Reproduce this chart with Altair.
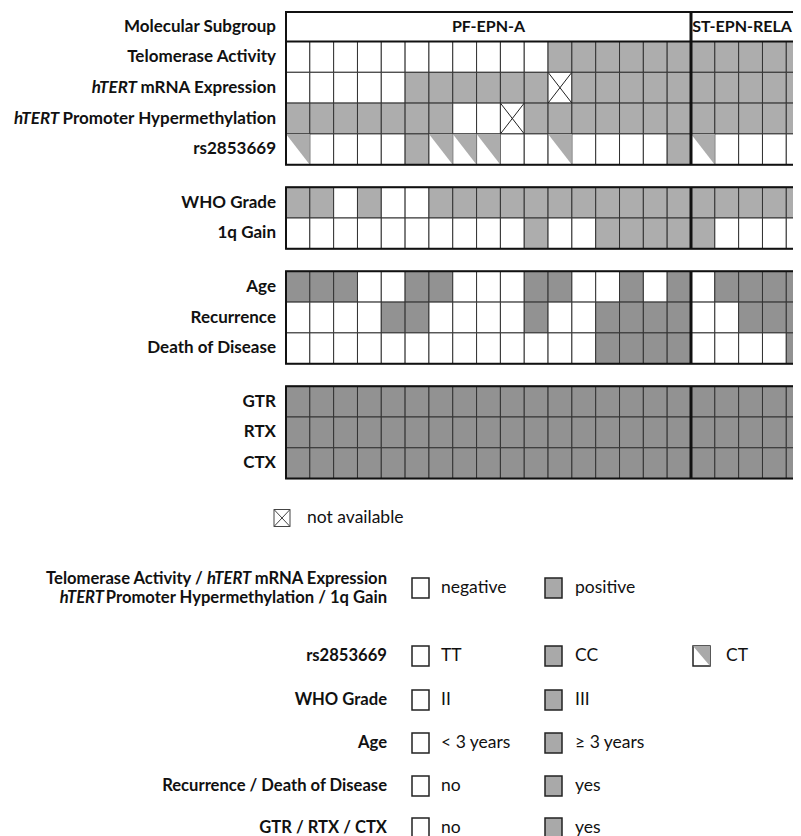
import altair as alt
import pandas as pd

# ------------------------------------------------------------------ data
subgroup_names = ["PF-EPN-A", "ST-EPN-RELA"]
subgroup_counts = [17, 5]

telomerase_activity = [0, 0, 0, 0, 0, 0, 0, 0, 0, 0, 0, 1, 1, 1, 1, 1, 1, 1, 1, 1, 1, 1]
htert_mrna_expression = [0, 0, 0, 0, 0, 1, 1, 1, 1, 1, 1, None, 1, 1, 1, 1, 1, 1, 1, 1, 1, 1]
htert_promoter_hypermethylation = [1, 1, 1, 1, 1, 1, 1, 0, 0, None, 1, 1, 1, 1, 1, 1, 1, 1, 1, 1, 1, 1]
rs2853669 = ["CT", "TT", "TT", "TT", "TT", "CC", "CT", "CT", "CT", "TT", "TT", "CT", "TT", "TT", "TT", "TT", "CC",
             "CT", "TT", "TT", "TT", "TT"]
who_grade = ["III", "III", "II", "III", "II", "II", "III", "III", "III", "III", "III", "III", "III", "III", "III",
             "III", "III", "III", "III", "III", "III", "III"]
gain_1q = [0, 0, 0, 0, 0, 0, 0, 0, 0, 0, 1, 0, 0, 1, 1, 1, 1, 1, 0, 0, 0, 0]
age = [">=3", ">=3", ">=3", "<3", "<3", ">=3", ">=3", "<3", "<3", "<3", ">=3", ">=3", "<3", "<3", ">=3", "<3", ">=3",
       "<3", ">=3", ">=3", ">=3", ">=3"]
recurrence = [0, 0, 0, 0, 1, 1, 0, 0, 0, 0, 1, 0, 0, 1, 1, 1, 1, 0, 0, 1, 1, 1]
death_of_disease = [0, 0, 0, 0, 0, 0, 0, 0, 0, 0, 0, 0, 0, 1, 1, 1, 1, 0, 0, 0, 0, 1]
gtr = [1, 1, 1, 1, 1, 1, 1, 1, 1, 1, 1, 1, 1, 1, 1, 1, 1, 1, 1, 1, 1, 1]
rtx = [1, 1, 1, 1, 1, 1, 1, 1, 1, 1, 1, 1, 1, 1, 1, 1, 1, 1, 1, 1, 1, 1]
ctx = [1, 1, 1, 1, 1, 1, 1, 1, 1, 1, 1, 1, 1, 1, 1, 1, 1, 1, 1, 1, 1, 1]

# block, italic prefix, label text, values, shade
row_specs = [
    (0, "", "Telomerase Activity", telomerase_activity, "light"),
    (0, "hTERT", " mRNA Expression", htert_mrna_expression, "light"),
    (0, "hTERT", " Promoter Hypermethylation", htert_promoter_hypermethylation, "light"),
    (0, "", "rs2853669", rs2853669, "light"),
    (1, "", "WHO Grade", who_grade, "light"),
    (1, "", "1q Gain", gain_1q, "light"),
    (2, "", "Age", age, "dark"),
    (2, "", "Recurrence", recurrence, "dark"),
    (2, "", "Death of Disease", death_of_disease, "dark"),
    (3, "", "GTR", gtr, "dark"),
    (3, "", "RTX", rtx, "dark"),
    (3, "", "CTX", ctx, "dark"),
]
positive_codes = [1, "CC", "III", ">=3"]
half_codes = ["CT"]

# legend content
legend_rows = [
    ([[("Telomerase Activity / ", False), ("hTERT", True), (" mRNA Expression", False)],
      [("hTERT", True), (" Promoter Hypermethylation / 1q Gain", False)]],
     ["negative", "positive"]),
    ([[("rs2853669", False)]], ["TT", "CC", "CT"]),
    ([[("WHO Grade", False)]], ["II", "III"]),
    ([[("Age", False)]], ["< 3 years", "\u2265 3 years"]),
    ([[("Recurrence / Death of Disease", False)]], ["no", "yes"]),
    ([[("GTR / RTX / CTX", False)]], ["no", "yes"]),
]
na_label = "not available"

# ------------------------------------------------------------------ style / layout
W, H = 785, 828
OFF = 8
FONT = "Lato"
FS = 17
FS_HEAD = 16
FS_LEG = 16.6
FS_VAL = 17.5
LIGHT, DARK, LEGGRAY = "#adadad", "#929292", "#a9a9a9"
X0 = 286 - OFF
CW = 405 / 17
HEADER_H = 29.5
RH = 30.8
GAP = 22.5
TOP = 12 - OFF
LABEL_R = 276 - OFF
LEG_R = 387 - OFF

W_BOLD = {" ": .24, "a": .51, "b": .56, "c": .45, "d": .56, "e": .52, "f": .33, "g": .5, "h": .56, "i": .25,
          "j": .25, "k": .51, "l": .25, "m": .84, "n": .56, "o": .56, "p": .56, "q": .56, "r": .37, "s": .42,
          "t": .35, "u": .56, "v": .51, "w": .77, "x": .5, "y": .51, "z": .45, "A": .69, "C": .65, "D": .73,
          "E": .55, "G": .7, "H": .74, "M": .88, "N": .74, "P": .59, "R": .62, "S": .52, "T": .58, "W": 1.0,
          "X": .66, "O": .77, "/": .37, "1": .58}


def tw(s, size=FS):
    return sum(W_BOLD.get(ch, .55) for ch in s) * size * 1.012


ncols = sum(subgroup_counts)

# block extents
block_top = {0: TOP}
row_top = []
y = TOP + HEADER_H
cur_block = 0
for b, _, _, _, _ in row_specs:
    if b != cur_block:
        y += GAP
        cur_block = b
        block_top[b] = y
    row_top.append(y)
    y += RH
block_bottom = {}
for i, (b, _, _, _, _) in enumerate(row_specs):
    block_bottom[b] = row_top[i] + RH

cells, tris, xs, labels_n, labels_i = [], [], [], [], []
for i, (b, ital, lab, vals, shade) in enumerate(row_specs):
    t = row_top[i]
    for c, v in enumerate(vals):
        L = X0 + c * CW
        R = L + CW
        fill = shade if v in positive_codes else "white"
        cells.append(dict(x=L, x2=R, y=t, y2=t + RH, fill=fill))
        if v in half_codes:
            k = f"{i}-{c}"
            tris.append(dict(x=L, y=t, y2=t, k=k))
            tris.append(dict(x=R, y=t, y2=t + RH, k=k))
        if v is None:
            xs.append(dict(x=L, x2=R, y=t, y2=t + RH))
            xs.append(dict(x=L, x2=R, y=t + RH, y2=t))
    yc = t + RH / 2
    labels_n.append(dict(x=LABEL_R, y=yc, t=lab.strip()))
    if ital:
        labels_i.append(dict(x=LABEL_R - tw(lab), y=yc, t=ital))

# header
headers, header_txt, outlines, dividers = [], [], [], []
start = 0
for name, n in zip(subgroup_names, subgroup_counts):
    L = X0 + start * CW
    R = X0 + (start + n) * CW
    headers.append(dict(x=L, x2=R, y=TOP, y2=TOP + HEADER_H))
    header_txt.append(dict(x=(L + min(R, W)) / 2, y=TOP + HEADER_H / 2, t=name))
    start += n
labels_n.insert(0, dict(x=LABEL_R, y=TOP + HEADER_H / 2, t="Molecular Subgroup"))
split_x = X0 + subgroup_counts[0] * CW
for b in block_top:
    outlines.append(dict(x=X0, x2=X0 + ncols * CW, y=block_top[b], y2=block_bottom[b]))
    dividers.append(dict(x=split_x, y=block_top[b], y2=block_bottom[b]))

# legend geometry
BOX_W, BOX_H = 17, 20
leg_y = [588, 656, 700, 743, 786, 828]
leg_box_x = [412, 545, 693]
leg_txt_x = [441, 575, 726]
leg_boxes, leg_tris, leg_vals, leg_lab_n, leg_lab_i = [], [], [], [], []
for (lines_, vals), yc in zip(legend_rows, leg_y):
    yc -= OFF
    for j, val in enumerate(vals):
        bx = leg_box_x[j] - OFF
        fill = "leg" if j == 1 else "white"
        leg_boxes.append(dict(x=bx, x2=bx + BOX_W, y=yc - BOX_H / 2, y2=yc + BOX_H / 2, fill=fill))
        if j == 2:
            k = f"L{yc}"
            leg_tris.append(dict(x=bx, y=yc - BOX_H / 2, y2=yc - BOX_H / 2, k=k))
            leg_tris.append(dict(x=bx + BOX_W, y=yc - BOX_H / 2, y2=yc + BOX_H / 2, k=k))
        leg_vals.append(dict(x=leg_txt_x[j] - OFF, y=yc, t=val))
    nl = len(lines_)
    for li, pieces in enumerate(lines_):
        ly = yc + (li - (nl - 1) / 2) * 19
        xr = LEG_R
        for txt, is_it in reversed(pieces):
            if is_it:
                leg_lab_i.append(dict(x=xr, y=ly, t=txt))
            else:
                leg_lab_n.append(dict(x=xr, y=ly, t=txt.rstrip()))
            xr -= tw(txt, FS_LEG)

# not available icon
NA_X, NA_Y = 274 - OFF, 518 - OFF
na_box = [dict(x=NA_X, x2=NA_X + 16, y=NA_Y - 8.5, y2=NA_Y + 8.5, fill="white")]
na_lines = [dict(x=NA_X, x2=NA_X + 16, y=NA_Y - 8.5, y2=NA_Y + 8.5),
            dict(x=NA_X, x2=NA_X + 16, y=NA_Y + 8.5, y2=NA_Y - 8.5)]
leg_vals.append(dict(x=307 - OFF, y=NA_Y, t=na_label))

# ------------------------------------------------------------------ chart
XS = alt.Scale(domain=[0, W], nice=False, zero=False)
YS = alt.Scale(domain=[0, H], nice=False, zero=False, reverse=True)
FILL = alt.Scale(domain=["white", "light", "dark", "leg"], range=["#ffffff", LIGHT, DARK, LEGGRAY])


def xq(f="x"):
    return alt.X(f"{f}:Q", scale=XS, axis=None)


def yq(f="y"):
    return alt.Y(f"{f}:Q", scale=YS, axis=None)


def rects(rows, **kw):
    return alt.Chart(pd.DataFrame(rows)).mark_rect(clip=True, **kw).encode(
        x=xq(), x2="x2:Q", y=yq(), y2="y2:Q")


def filled_rects(rows, **kw):
    return rects(rows, **kw).encode(fill=alt.Fill("fill:N", scale=FILL, legend=None))


def tri_layer(rows, color):
    return alt.Chart(pd.DataFrame(rows)).mark_area(clip=True, color=color, interpolate="linear",
                                                     orient="vertical").encode(
        x=xq(), y=yq(), y2="y2:Q", detail="k:N")


def lines(rows, **kw):
    return alt.Chart(pd.DataFrame(rows)).mark_rule(clip=True, **kw).encode(
        x=xq(), x2="x2:Q", y=yq(), y2="y2:Q")


def texts(rows, **kw):
    return alt.Chart(pd.DataFrame(rows)).mark_text(font=FONT, baseline="middle", **kw).encode(
        x=xq(), y=yq(), text="t:N")


layers = [
    filled_rects(cells, stroke="#333333", strokeWidth=1),
    tri_layer(tris, LIGHT),
    lines(xs, color="#222222", strokeWidth=1),
    rects(outlines, fill="white", fillOpacity=0, stroke="#111111", strokeWidth=2),
    rects(headers, fill="white", stroke="#111111", strokeWidth=2),
    alt.Chart(pd.DataFrame(dividers)).mark_rule(clip=True, color="#111111", strokeWidth=3).encode(
        x=xq(), y=yq(), y2="y2:Q"),
    texts(header_txt, align="center", fontSize=FS_HEAD, fontWeight="bold", color="#111111"),
    texts(labels_n, align="right", fontSize=FS, fontWeight="bold", color="#111111"),
    texts(labels_i, align="right", fontSize=FS, fontWeight="bold", fontStyle="italic", color="#111111"),
    filled_rects(leg_boxes, stroke="#222222", strokeWidth=1.5),
    tri_layer(leg_tris, LEGGRAY),
    filled_rects(na_box, stroke="#444444", strokeWidth=1),
    lines(na_lines, color="#444444", strokeWidth=1),
    texts(leg_vals, align="left", fontSize=FS_VAL, color="#111111"),
    texts(leg_lab_n, align="right", fontSize=FS_LEG, fontWeight="bold", color="#111111"),
    texts(leg_lab_i, align="right", fontSize=FS_LEG, fontWeight="bold", fontStyle="italic", color="#111111"),
]

chart = alt.layer(*layers).properties(
    width=W, height=H, padding=0, autosize=alt.AutoSizeParams(type="none")
).configure_view(stroke=None)

chart.save("out.html", embed_options={"renderer": "svg", "actions": False})
